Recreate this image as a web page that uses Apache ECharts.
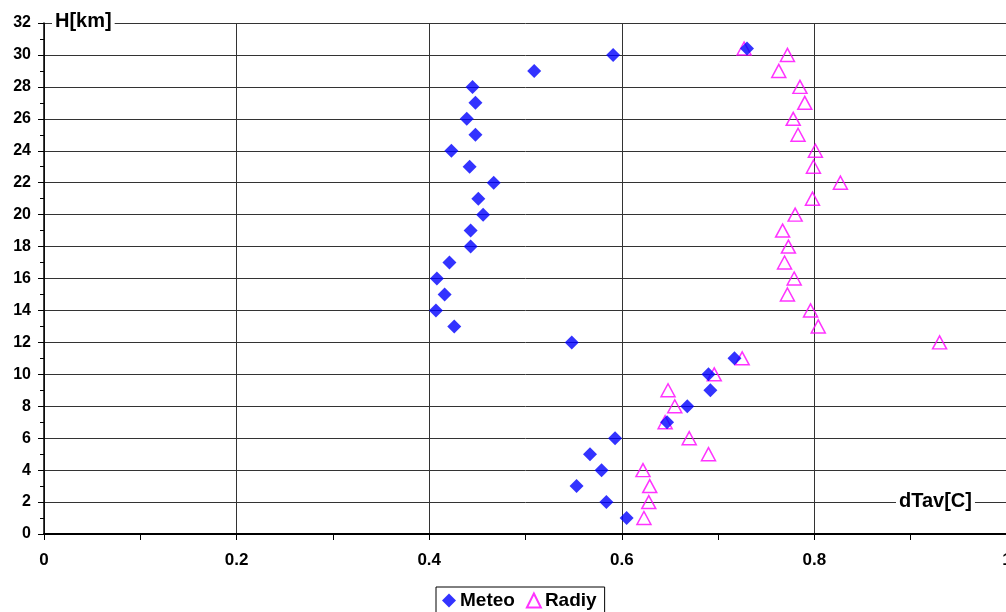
<!DOCTYPE html>
<html>
<head>
<meta charset="utf-8">
<script src="https://cdn.jsdelivr.net/npm/echarts@6/dist/echarts.min.js"></script>
<style>
  html, body { margin: 0; padding: 0; background: #fff; }
  #chart { width: 1006px; height: 612px; }
</style>
</head>
<body>
<div id="chart"></div>
<script>
// heights in km
const heights = [30.4, 30, 29, 28, 27, 26, 25, 24, 23, 22, 21, 20, 19, 18, 17, 16,
  15, 14, 13, 12, 11, 10, 9, 8, 7, 6, 5, 4, 3, 2, 1]
// dTav, Meteo
const meteo = [0.730, 0.591, 0.509, 0.445, 0.448, 0.439, 0.448, 0.423, 0.442, 0.467,
  0.451, 0.456, 0.443, 0.443, 0.421, 0.408, 0.416, 0.407, 0.426, 0.548,
  0.717, 0.690, 0.692, 0.668, 0.647, 0.593, 0.567, 0.579, 0.553, 0.584, 0.605]
// dTav, Radiy
const radiy = [0.727, 0.772, 0.763, 0.785, 0.790, 0.778, 0.783, 0.801, 0.799, 0.827,
  0.798, 0.780, 0.767, 0.773, 0.769, 0.779, 0.772, 0.796, 0.804, 0.930,
  0.725, 0.696, 0.648, 0.655, 0.645, 0.670, 0.690, 0.622, 0.629, 0.628, 0.623]

const font = 'Liberation Sans, Arial, sans-serif'

const chart = echarts.init(document.getElementById('chart'))

chart.setOption({
  animation: false,
  grid: {
    left: 44,
    right: -1,
    top: 23,
    bottom: 78,
    outerBoundsMode: 'none'
  },
  legend: {
    bottom: -10,
    left: 436,
    padding: [4, 8, 12, 6],
    itemGap: 11,
    itemWidth: 14,
    itemHeight: 14,
    borderColor: '#000',
    borderWidth: 1,
    textStyle: { fontFamily: font, fontWeight: 'bold', fontSize: 19, color: '#000', padding: [0, 0, 0, -1] },
    data: ['Meteo', 'Radiy']
  },
  xAxis: {
    type: 'value',
    min: 0,
    max: 1,
    interval: 0.2,
    axisLine: { show: true, onZero: false, lineStyle: { color: '#000', width: 2 } },
    axisTick: { show: true, length: 6, lineStyle: { color: '#000' } },
    minorTick: { show: true, splitNumber: 2, length: 6, lineStyle: { color: '#000' } },
    axisLabel: {
      margin: 18,
      fontFamily: font,
      fontWeight: 'bold',
      fontSize: 17,
      color: '#000',
      showMaxLabel: true,
      formatter: v => String(Math.round(v * 10) / 10)
    },
    splitLine: { show: true, lineStyle: { color: '#333', width: 1 } }
  },
  yAxis: {
    type: 'value',
    min: 0,
    max: 32,
    interval: 2,
    axisLine: { show: true, lineStyle: { color: '#000', width: 1.5 } },
    axisTick: { show: true, length: 6, lineStyle: { color: '#000' } },
    minorTick: { show: true, splitNumber: 2, length: 4, lineStyle: { color: '#000' } },
    axisLabel: {
      margin: 13,
      fontFamily: font,
      fontWeight: 'bold',
      fontSize: 16,
      color: '#000'
    },
    splitLine: { show: true, lineStyle: { color: '#333', width: 1 } }
  },
  graphic: [
    {
      type: 'text',
      left: 52,
      top: 11,
      z: 100,
      style: {
        text: 'H[km]',
        font: 'bold 20px ' + font,
        fill: '#000',
        backgroundColor: '#fff',
        padding: [0, 3, 0, 3]
      }
    },
    {
      type: 'text',
      left: 896,
      top: 491,
      z: 100,
      style: {
        text: 'dTav[C]',
        font: 'bold 20px ' + font,
        fill: '#000',
        backgroundColor: '#fff',
        padding: [0, 3, 0, 3]
      }
    }
  ],
  series: [
    {
      name: 'Meteo',
      type: 'scatter',
      symbol: 'diamond',
      symbolSize: 14,
      itemStyle: { color: '#0000ff' },
      data: heights.map((h, i) => [meteo[i], h]),
      z: 3
    },
    {
      name: 'Radiy',
      type: 'scatter',
      symbol: 'triangle',
      symbolSize: [14, 13],
      itemStyle: { color: 'rgba(255,255,255,0)', borderColor: '#ff00ff', borderWidth: 1.5 },
      data: heights.map((h, i) => [radiy[i], h]),
      z: 2
    }
  ]
})
</script>
</body>
</html>
